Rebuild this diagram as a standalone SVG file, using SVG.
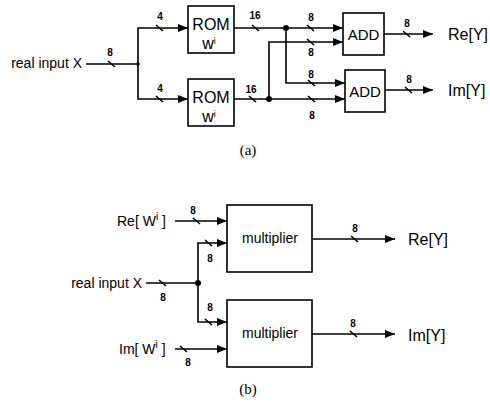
<svg xmlns="http://www.w3.org/2000/svg" width="490" height="402" viewBox="0 0 490 402">
<defs>
<marker id="ah" viewBox="0 0 10 8" refX="10" refY="4" markerWidth="10" markerHeight="8" markerUnits="userSpaceOnUse" orient="auto">
<path d="M0,0 L10,4 L0,8 Z" fill="#000"/>
</marker>
<style>
.w{fill:none;stroke:#000;stroke-width:1.6}
.a{marker-end:url(#ah)}
.s{fill:none;stroke:#000;stroke-width:1.6}
.box{fill:#fff;stroke:#000;stroke-width:1.6}
.t{font-family:"Liberation Sans",Arial,sans-serif;fill:#000}
.n{font-family:"Liberation Sans",Arial,sans-serif;font-size:10px;font-weight:bold;fill:#000;text-anchor:middle}
.cap{font-family:"Liberation Serif","Times New Roman",serif;font-size:15px;fill:#000;text-anchor:middle}
</style>
</defs>
<rect width="490" height="402" fill="#fff"/>

<g id="connectors">
<!-- (a) -->
<path class="w" d="M86,64 H138"/>
<path class="w a" d="M138,64 V28 H188"/>
<path class="w a" d="M138,64 V99 H188"/>
<path class="w a" d="M234,28 H343"/>
<path class="w a" d="M286,28 V83 H345"/>
<path class="w a" d="M234,99 H345"/>
<path class="w a" d="M269,99 V42 H343"/>
<path class="w a" d="M384,34 H433"/>
<path class="w a" d="M385,90 H433"/>
<circle cx="138" cy="64" r="1.8"/>
<circle cx="286" cy="28" r="3"/>
<circle cx="269" cy="99" r="3"/>
<!-- slashes (a) -->
<path class="s" d="M108,61 l7,6 M156,25 l7,6 M156,96 l7,6 M252,25 l7,6 M249,96 l7,6 M307,25 l7,6 M307,39 l7,6 M308,80 l7,6 M308,96 l7,6 M403,31 l7,6 M405,87 l7,6"/>
<!-- (b) -->
<path class="w a" d="M175,221 H227"/>
<path class="w" d="M146,283 H198"/>
<path class="w a" d="M198,283 V243 H227"/>
<path class="w a" d="M198,283 V322 H227"/>
<path class="w a" d="M175,349 H227"/>
<path class="w a" d="M312,239 H395"/>
<path class="w a" d="M312,334 H395"/>
<circle cx="198" cy="283" r="3"/>
<path class="s" d="M193,218 l7,6 M159,280 l7,6 M205,240 l7,6 M205,319 l7,6 M180,346 l7,6 M351,236 l7,6 M350,331 l7,6"/>
</g>

<g class="t">
<text x="82" y="68" font-size="14" text-anchor="end">real input X</text>
<text class="n" x="110" y="56">8</text>
<text class="n" x="160" y="20">4</text>
<text class="n" x="160" y="92">4</text>
<text class="n" x="255" y="19">16</text>
<text class="n" x="251" y="93">16</text>
<text class="n" x="311" y="21">8</text>
<text class="n" x="311" y="56">8</text>
<text class="n" x="311" y="78">8</text>
<text class="n" x="312" y="119">8</text>
<text class="n" x="407" y="27">8</text>
<text class="n" x="409" y="83">8</text>
<text x="448" y="40" font-size="16">Re[Y]</text>
<text x="448" y="96" font-size="16">Im[Y]</text>
<text class="cap" x="248" y="155">(a)</text>

<text x="117" y="226" font-size="14">Re[ W<tspan font-size="10" dy="-6">i</tspan><tspan dy="6"> ]</tspan></text>
<text x="142" y="288" font-size="14" text-anchor="end">real input X</text>
<text x="119" y="354" font-size="14">Im[ W<tspan font-size="10" dy="-6">i</tspan><tspan dy="6"> ]</tspan></text>
<text class="n" x="193" y="214">8</text>
<text class="n" x="163" y="301">8</text>
<text class="n" x="210" y="262">8</text>
<text class="n" x="210" y="311">8</text>
<text class="n" x="188" y="366">8</text>
<text class="n" x="355" y="232">8</text>
<text class="n" x="353" y="327">8</text>
<text x="408" y="245" font-size="16">Re[Y]</text>
<text x="408" y="341" font-size="16">Im[Y]</text>
<text class="cap" x="248" y="394">(b)</text>
</g>

<g id="rom1">
<rect class="box" x="188" y="6" width="46" height="47"/>
<text class="t" x="211" y="30" font-size="16" text-anchor="middle">ROM</text>
<text class="t" x="209" y="49" font-size="16" text-anchor="middle">w<tspan font-size="9" dy="-5">i</tspan></text>
</g>
<g id="rom2">
<rect class="box" x="188" y="79" width="46" height="47"/>
<text class="t" x="211" y="103" font-size="16" text-anchor="middle">ROM</text>
<text class="t" x="209" y="122" font-size="16" text-anchor="middle">w<tspan font-size="9" dy="-5">i</tspan></text>
</g>
<g id="add1">
<rect class="box" x="343" y="13" width="41" height="42"/>
<text class="t" x="363.5" y="40" font-size="15" text-anchor="middle">ADD</text>
</g>
<g id="add2">
<rect class="box" x="345" y="70" width="40" height="42"/>
<text class="t" x="365" y="97" font-size="15" text-anchor="middle">ADD</text>
</g>
<g id="mult1">
<rect class="box" x="227" y="205" width="85" height="67"/>
<text class="t" x="270" y="243" font-size="14" text-anchor="middle">multiplier</text>
</g>
<g id="mult2">
<rect class="box" x="227" y="300" width="85" height="67"/>
<text class="t" x="270" y="338" font-size="14" text-anchor="middle">multiplier</text>
</g>
</svg>
